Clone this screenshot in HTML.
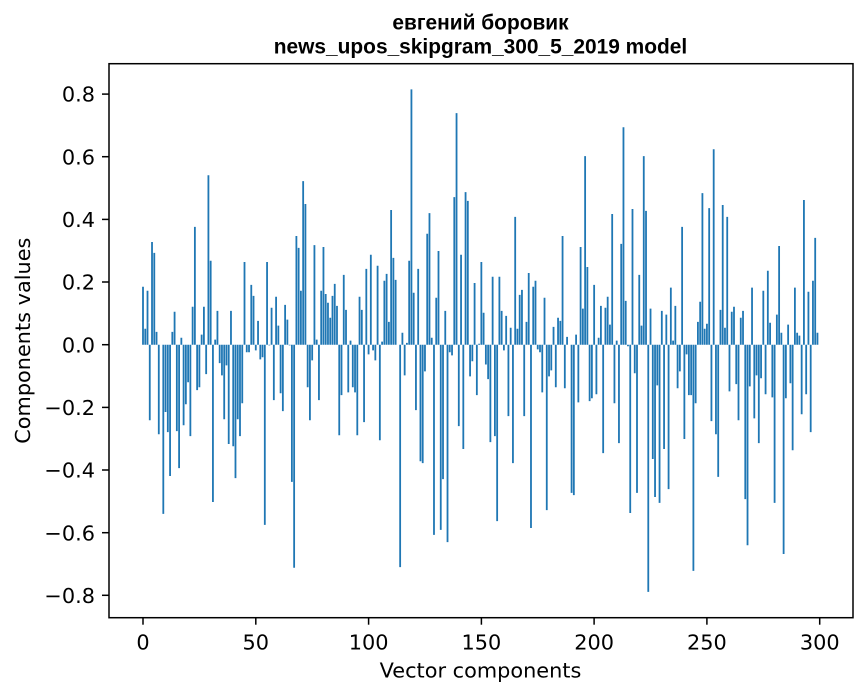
<!DOCTYPE html>
<html><head><meta charset="utf-8"><style>
html,body{margin:0;padding:0;background:#fff;}
svg{display:block;}
.t{font-family:"DejaVu Sans","Liberation Sans",sans-serif;font-size:20.83px;fill:#000;}
.ti{font-family:"Liberation Sans","DejaVu Sans",sans-serif;font-size:20.9px;font-weight:bold;fill:#000;}
</style></head><body>
<svg width="867" height="696" viewBox="0 0 867 696" xmlns="http://www.w3.org/2000/svg">
<rect width="867" height="696" fill="#fff"/>
<g transform="translate(142.098,344.7) scale(2.2557,-313.3)" fill="#1f77b4">
<path d="M0 0v.185h.8v-.185zM1 0v.051h.8v-.051zM2 0v.172h.8v-.172zM3 0v-.241h.8v.241zM4 0v.328h.8v-.328zM5 0v.293h.8v-.293zM6 0v.041h.8v-.041zM7 0v-.286h.8v.286zM9 0v-.54h.8v.54zM10 0v-.215h.8v.215zM11 0v-.279h.8v.279zM12 0v-.419h.8v.419zM13 0v.041h.8v-.041zM14 0v.105h.8v-.105zM15 0v-.276h.8v.276zM16 0v-.394h.8v.394zM17 0v.022h.8v-.022zM18 0v-.257h.8v.257zM19 0v-.19h.8v.19zM20 0v-.12h.8v.12zM21 0v-.292h.8v.292zM22 0v.121h.8v-.121zM23 0v.376h.8v-.376zM24 0v-.145h.8v.145zM25 0v-.136h.8v.136zM26 0v.032h.8v-.032zM27 0v.121h.8v-.121zM28 0v-.094h.8v.094zM29 0v.541h.8v-.541zM30 0v.268h.8v-.268zM31 0v-.502h.8v.502zM32 0v.016h.8v-.016zM33 0v.108h.8v-.108zM34 0v-.059h.8v.059zM35 0v-.098h.8v.098zM36 0v-.238h.8v.238zM37 0v-.066h.8v.066zM38 0v-.317h.8v.317zM39 0v.108h.8v-.108zM40 0v-.324h.8v.324zM41 0v-.426h.8v.426zM42 0v-.238h.8v.238zM43 0v-.292h.8v.292zM44 0v-.187h.8v.187zM45 0v.264h.8v-.264zM46 0v-.024h.8v.024zM47 0v-.024h.8v.024zM48 0v.191h.8v-.191zM49 0v.156h.8v-.156zM50 0v-.018h.8v.018zM51 0v.076h.8v-.076zM52 0v-.047h.8v.047zM53 0v-.04h.8v.04zM54 0v-.575h.8v.575zM55 0v.264h.8v-.264zM56 0v-.002h.8v.002zM57 0v.118h.8v-.118zM58 0v-.177h.8v.177zM59 0v.153h.8v-.153zM60 0v.061h.8v-.061zM61 0v-.155h.8v.155zM62 0v-.212h.8v.212zM63 0v.127h.8v-.127zM64 0v.08h.8v-.08zM65 0v-.002h.8v.002zM66 0v-.438h.8v.438zM67 0v-.712h.8v.712zM68 0v.347h.8v-.347zM69 0v.309h.8v-.309zM70 0v.172h.8v-.172zM71 0v.522h.8v-.522zM72 0v.449h.8v-.449zM73 0v-.136h.8v.136zM74 0v-.241h.8v.241zM75 0v-.05h.8v.05zM76 0v.318h.8v-.318zM77 0v.016h.8v-.016zM78 0v-.177h.8v.177zM79 0v.172h.8v-.172zM80 0v.312h.8v-.312zM81 0v.162h.8v-.162zM82 0v.134h.8v-.134zM83 0v.086h.8v-.086zM84 0v.156h.8v-.156zM85 0v.194h.8v-.194zM86 0v.124h.8v-.124zM87 0v-.289h.8v.289zM88 0v-.161h.8v.161zM89 0v.223h.8v-.223zM90 0v.111h.8v-.111zM91 0v-.152h.8v.152zM92 0v.013h.8v-.013zM93 0v-.136h.8v.136zM94 0v-.152h.8v.152zM95 0v-.289h.8v.289zM96 0v.153h.8v-.153zM97 0v.111h.8v-.111zM98 0v-.247h.8v.247zM99 0v.242h.8v-.242zM100 0v-.031h.8v.031zM101 0v.287h.8v-.287zM102 0v-.018h.8v.018zM103 0v-.05h.8v.05zM104 0v.252h.8v-.252zM105 0v-.305h.8v.305zM106 0v.01h.8v-.01zM107 0v.204h.8v-.204zM108 0v.226h.8v-.226zM109 0v.073h.8v-.073zM110 0v.43h.8v-.43zM111 0v.277h.8v-.277zM112 0v.207h.8v-.207zM114 0v-.71h.8v.71zM115 0v.038h.8v-.038zM116 0v-.098h.8v.098zM117 0v.006h.8v-.006zM118 0v.268h.8v-.268zM119 0v.815h.8v-.815zM120 0v.166h.8v-.166zM121 0v-.209h.8v.209zM122 0v.242h.8v-.242zM123 0v-.372h.8v.372zM124 0v-.378h.8v.378zM125 0v-.085h.8v.085zM126 0v.354h.8v-.354zM127 0v.42h.8v-.42zM128 0v.022h.8v-.022zM129 0v-.607h.8v.607zM130 0v.15h.8v-.15zM131 0v.299h.8v-.299zM132 0v-.591h.8v.591zM133 0v-.429h.8v.429zM134 0v.108h.8v-.108zM135 0v-.63h.8v.63zM136 0v-.024h.8v.024zM137 0v-.034h.8v.034zM138 0v.471h.8v-.471zM139 0v.739h.8v-.739zM140 0v-.26h.8v.26zM141 0v.287h.8v-.287zM142 0v-.333h.8v.333zM143 0v.487h.8v-.487zM144 0v.459h.8v-.459zM145 0v-.101h.8v.101zM146 0v-.053h.8v.053zM147 0v.197h.8v-.197zM148 0v-.161h.8v.161zM149 0v.003h.8v-.003zM150 0v.264h.8v-.264zM151 0v.102h.8v-.102zM152 0v-.063h.8v.063zM153 0v-.11h.8v.11zM154 0v-.311h.8v.311zM155 0v.217h.8v-.217zM156 0v-.292h.8v.292zM157 0v-.563h.8v.563zM158 0v.217h.8v-.217zM159 0v.108h.8v-.108zM160 0v-.018h.8v.018zM161 0v.092h.8v-.092zM162 0v-.228h.8v.228zM163 0v.054h.8v-.054zM164 0v-.378h.8v.378zM165 0v.408h.8v-.408zM166 0v.051h.8v-.051zM167 0v.159h.8v-.159zM168 0v.175h.8v-.175zM169 0v-.228h.8v.228zM170 0v.073h.8v-.073zM171 0v.229h.8v-.229zM172 0v-.585h.8v.585zM173 0v.185h.8v-.185zM174 0v.204h.8v-.204zM175 0v-.015h.8v.015zM176 0v-.024h.8v.024zM177 0v-.152h.8v.152zM178 0v.15h.8v-.15zM179 0v-.528h.8v.528zM180 0v-.101h.8v.101zM181 0v-.082h.8v.082zM182 0v.057h.8v-.057zM183 0v-.136h.8v.136zM184 0v.086h.8v-.086zM185 0v.076h.8v-.076zM186 0v.347h.8v-.347zM187 0v-.139h.8v.139zM188 0v.025h.8v-.025zM190 0v-.473h.8v.473zM191 0v-.48h.8v.48zM192 0v.032h.8v-.032zM193 0v-.184h.8v.184zM194 0v.312h.8v-.312zM195 0v.115h.8v-.115zM196 0v.602h.8v-.602zM197 0v.248h.8v-.248zM198 0v-.18h.8v.18zM199 0v-.171h.8v.171zM200 0v.191h.8v-.191zM201 0v-.158h.8v.158zM202 0v.022h.8v-.022zM203 0v.124h.8v-.124zM204 0v-.346h.8v.346zM205 0v.118h.8v-.118zM206 0v.153h.8v-.153zM207 0v.064h.8v-.064zM208 0v.417h.8v-.417zM209 0v-.187h.8v.187zM210 0v.013h.8v-.013zM211 0v-.314h.8v.314zM212 0v.322h.8v-.322zM213 0v.694h.8v-.694zM214 0v.14h.8v-.14zM215 0v-.005h.8v.005zM216 0v-.537h.8v.537zM217 0v.433h.8v-.433zM218 0v-.091h.8v.091zM219 0v-.473h.8v.473zM220 0v.223h.8v-.223zM221 0v.061h.8v-.061zM222 0v.602h.8v-.602zM223 0v.427h.8v-.427zM224 0v-.789h.8v.789zM225 0v.115h.8v-.115zM226 0v-.365h.8v.365zM227 0v-.486h.8v.486zM228 0v-.13h.8v.13zM229 0v-.505h.8v.505zM230 0v.108h.8v-.108zM231 0v-.333h.8v.333zM232 0v.096h.8v-.096zM233 0v-.461h.8v.461zM234 0v.182h.8v-.182zM235 0v.013h.8v-.013zM236 0v.124h.8v-.124zM237 0v-.139h.8v.139zM238 0v-.085h.8v.085zM239 0v.376h.8v-.376zM240 0v-.301h.8v.301zM241 0v-.031h.8v.031zM242 0v-.161h.8v.161zM243 0v-.161h.8v.161zM244 0v-.722h.8v.722zM245 0v-.187h.8v.187zM246 0v.073h.8v-.073zM247 0v.137h.8v-.137zM248 0v.484h.8v-.484zM249 0v.051h.8v-.051zM250 0v.067h.8v-.067zM251 0v.436h.8v-.436zM252 0v-.244h.8v.244zM253 0v.624h.8v-.624zM254 0v-.286h.8v.286zM255 0v-.422h.8v.422zM256 0v.111h.8v-.111zM257 0v.446h.8v-.446zM258 0v.054h.8v-.054zM259 0v.408h.8v-.408zM260 0v-.149h.8v.149zM261 0v.105h.8v-.105zM262 0v.121h.8v-.121zM263 0v-.126h.8v.126zM264 0v-.241h.8v.241zM265 0v.086h.8v-.086zM266 0v.108h.8v-.108zM267 0v-.493h.8v.493zM268 0v-.64h.8v.64zM269 0v-.133h.8v.133zM270 0v.182h.8v-.182zM271 0v-.235h.8v.235zM272 0v-.098h.8v.098zM273 0v-.314h.8v.314zM274 0v-.107h.8v.107zM275 0v.172h.8v-.172zM276 0v-.158h.8v.158zM277 0v.236h.8v-.236zM278 0v.07h.8v-.07zM279 0v-.168h.8v.168zM280 0v-.505h.8v.505zM281 0v.096h.8v-.096zM282 0v.315h.8v-.315zM283 0v.038h.8v-.038zM284 0v-.668h.8v.668zM285 0v-.171h.8v.171zM286 0v.064h.8v-.064zM287 0v-.123h.8v.123zM288 0v-.337h.8v.337zM289 0v.182h.8v-.182zM290 0v.038h.8v-.038zM291 0v.029h.8v-.029zM292 0v-.222h.8v.222zM293 0v.462h.8v-.462zM294 0v-.158h.8v.158zM295 0v.169h.8v-.169zM296 0v-.279h.8v.279zM297 0v.204h.8v-.204zM298 0v.341h.8v-.341zM299 0v.038h.8v-.038z"/>
</g>
<rect x="109" y="63.7" width="744" height="554" fill="none" stroke="#000" stroke-width="1.5"/>
<g stroke="#000" stroke-width="1.5">
<line x1="143" y1="617.7" x2="143" y2="624.7"/>
<line x1="255.8" y1="617.7" x2="255.8" y2="624.7"/>
<line x1="368.6" y1="617.7" x2="368.6" y2="624.7"/>
<line x1="481.4" y1="617.7" x2="481.4" y2="624.7"/>
<line x1="594.1" y1="617.7" x2="594.1" y2="624.7"/>
<line x1="706.9" y1="617.7" x2="706.9" y2="624.7"/>
<line x1="819.7" y1="617.7" x2="819.7" y2="624.7"/>
<line x1="102" y1="94.1" x2="109" y2="94.1"/>
<line x1="102" y1="156.7" x2="109" y2="156.7"/>
<line x1="102" y1="219.4" x2="109" y2="219.4"/>
<line x1="102" y1="282" x2="109" y2="282"/>
<line x1="102" y1="344.7" x2="109" y2="344.7"/>
<line x1="102" y1="407.4" x2="109" y2="407.4"/>
<line x1="102" y1="470" x2="109" y2="470"/>
<line x1="102" y1="532.7" x2="109" y2="532.7"/>
<line x1="102" y1="595.3" x2="109" y2="595.3"/>
</g>
<g class="t" text-anchor="middle">
<text x="143" y="649.5">0</text>
<text x="255.8" y="649.5">50</text>
<text x="368.6" y="649.5">100</text>
<text x="481.4" y="649.5">150</text>
<text x="594.1" y="649.5">200</text>
<text x="706.9" y="649.5">250</text>
<text x="819.7" y="649.5">300</text>
</g>
<g class="t" text-anchor="end">
<text x="95" y="101.7">0.8</text>
<text x="95" y="164.3">0.6</text>
<text x="95" y="227">0.4</text>
<text x="95" y="289.6">0.2</text>
<text x="95" y="352.3">0.0</text>
<text x="95" y="415">−0.2</text>
<text x="95" y="477.6">−0.4</text>
<text x="95" y="540.3">−0.6</text>
<text x="95" y="602.9">−0.8</text>
</g>
<text class="t" x="480.5" y="677.3" text-anchor="middle">Vector components</text>
<text class="t" x="0" y="0" text-anchor="middle" transform="translate(29.8,340.7) rotate(-90)">Components values</text>
<text class="ti" x="480.5" y="29.3" text-anchor="middle">евгений боровик</text>
<text class="ti" x="480.5" y="53.4" text-anchor="middle">news_upos_skipgram_300_5_2019 model</text>
</svg>
</body></html>
